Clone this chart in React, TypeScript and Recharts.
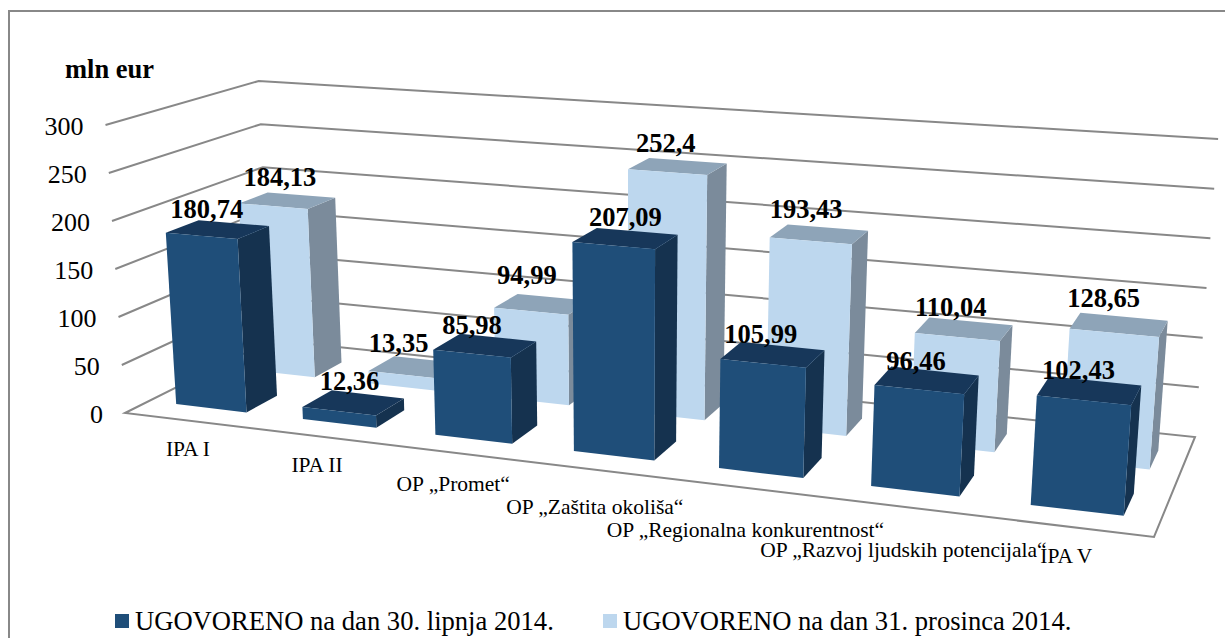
import { BarChart, Bar, XAxis, YAxis, CartesianGrid, LabelList, Legend } from 'recharts';

const categories = [
  'IPA I',
  'IPA II',
  'OP „Promet“',
  'OP „Zaštita okoliša“',
  'OP „Regionalna konkurentnost“',
  'OP „Razvoj ljudskih potencijala“',
  'IPA V',
];
const june2014 = [180.74, 12.36, 85.98, 207.09, 105.99, 96.46, 102.43];
const december2014 = [184.13, 13.35, 94.99, 252.4, 193.43, 110.04, 128.65];
const yTicks = [0, 50, 100, 150, 200, 250, 300];

const chartData = categories.map((name, i) => ({
  name,
  june: june2014[i],
  december: december2014[i],
}));

const FONT = '"Liberation Serif", serif';
const GRID = '#888888';

// flat plot area that recharts lays out, gets projected onto the 3d box below
const PLOT = { left: 100, top: 100, width: 1000, height: 400 };

type Pt = [number, number];

// unit square -> quad (u along the front edge, d towards the back wall)
function makeHomography(p00: Pt, p10: Pt, p11: Pt, p01: Pt) {
  const dx1 = p10[0] - p11[0];
  const dx2 = p01[0] - p11[0];
  const sx = p00[0] - p10[0] + p11[0] - p01[0];
  const dy1 = p10[1] - p11[1];
  const dy2 = p01[1] - p11[1];
  const sy = p00[1] - p10[1] + p11[1] - p01[1];
  const den = dx1 * dy2 - dx2 * dy1;
  const g = (sx * dy2 - dx2 * sy) / den;
  const h = (dx1 * sy - sx * dy1) / den;
  const a = p10[0] - p00[0] + g * p10[0];
  const b = p01[0] - p00[0] + h * p01[0];
  const d = p10[1] - p00[1] + g * p10[1];
  const e = p01[1] - p00[1] + h * p01[1];
  return (u: number, v: number): Pt => {
    const q = g * u + h * v + 1;
    return [(a * u + b * v + p00[0]) / q, (d * u + e * v + p00[1]) / q];
  };
}

const floor = makeHomography([125, 413], [1154, 537], [1195, 437], [271, 340]);
const ceiling = makeHomography([105, 125], [1174, 207], [1215, 139], [259, 81]);

// verticals all run towards one point far below the chart
const VANISH: Pt = [625, 7800];

function project(u: number, d: number, w: number): Pt {
  const a = floor(u, d);
  const topY = ceiling(u, d)[1];
  const y = a[1] + (topY - a[1]) * w;
  return [VANISH[0] + ((a[0] - VANISH[0]) * (y - VANISH[1])) / (a[1] - VANISH[1]), y];
}

const toU = (x: number) => (x - PLOT.left) / PLOT.width;
const toW = (y: number) => (PLOT.top + PLOT.height - y) / PLOT.height;
const pts = (list: Pt[]) => list.map(p => `${p[0].toFixed(1)},${p[1].toFixed(1)}`).join(' ');

const ROWS = {
  front: { near: 0.15, far: 0.36, slide: 0, face: '#1F4E79', top: '#17375A', side: '#15324F' },
  back: { near: 0.61, far: 0.815, slide: 0.004, face: '#BDD7EE', top: '#8EA4B8', side: '#7B8B9B' },
};
type Row = typeof ROWS.front;

function Box3D({ x, y, width, height, row }: any) {
  const r: Row = row;
  const u0 = toU(x) + r.slide;
  const u1 = toU(x + width) + r.slide;
  const w = toW(y);
  const base = toW(y + height);
  return (
    <g>
      <polygon
        points={pts([project(u1, r.near, base), project(u1, r.far, base), project(u1, r.far, w), project(u1, r.near, w)])}
        fill={r.side}
      />
      <polygon
        points={pts([project(u0, r.near, w), project(u1, r.near, w), project(u1, r.far, w), project(u0, r.far, w)])}
        fill={r.top}
      />
      <polygon
        points={pts([project(u0, r.near, base), project(u1, r.near, base), project(u1, r.near, w), project(u0, r.near, w)])}
        fill={r.face}
      />
    </g>
  );
}

// excel labels sit a little off the bar centre, per bar [dx, dy]
const frontLabelNudge: Pt[] = [[-3, 0], [4, 1], [-5, 1], [8, 0], [-4, 2], [-3, 4], [-3, 3]];
const backLabelNudge: Pt[] = [[4, -4], [-6, -2], [-4, -8], [0, -3], [-1, -4], [-1, 0], [-3, -4]];

function BarValue({ x, y, width, value, index, row, nudge }: any) {
  const r: Row = row;
  const w = toW(y);
  const um = toU(x + width / 2);
  const back = project(um, r.far, w);
  const mid = project(um, (r.near + r.far) / 2, w);
  return (
    <text
      x={mid[0] - 8 + nudge[index][0]}
      y={back[1] - 5 + nudge[index][1]}
      textAnchor="middle"
      fontFamily={FONT}
      fontWeight="bold"
      fontSize={26.5}
      fill="#000"
    >
      {String(value).replace('.', ',')}
    </text>
  );
}

// wall lines, the zero line closes the floor
function WallLine({ y1 }: any) {
  const w = toW(y1);
  const line = [project(0, 0, w), project(0, 1, w), project(1, 1, w)];
  if (w < 0.001) {
    return (
      <polygon
        points={pts([...line, project(1, 0, 0)])}
        fill="none"
        stroke={GRID}
        strokeWidth={2}
      />
    );
  }
  return <polyline points={pts(line)} fill="none" stroke={GRID} strokeWidth={2} />;
}

function ValueTick({ y, payload }: any) {
  const p = project(0, 0, toW(y));
  return (
    <text x={p[0] - 22} y={p[1] + 10} textAnchor="end" fontFamily={FONT} fontSize={26} fill="#000">
      {payload.value}
    </text>
  );
}

// excel staggered these by hand, distance below the front edge
const tickDrop = [35, 36, 38, 44, 49, 50, 36];
const tickShift = [0, -1, -1, -2, -1, 0, -2];

function CategoryTick({ x, payload, index }: any) {
  const p = project(toU(x), 0, 0);
  return (
    <text
      x={p[0] + tickShift[index]}
      y={p[1] + tickDrop[index]}
      textAnchor="middle"
      fontFamily={FONT}
      fontSize={21.5}
      fill="#000"
    >
      {payload.value}
    </text>
  );
}

function AxisTitle() {
  return (
    <text x={65} y={78} fontFamily={FONT} fontWeight="bold" fontSize={26.5} fill="#000">
      mln eur
    </text>
  );
}

const legendSpots = [115, 603];

function LegendRow({ payload }: any) {
  return (
    <div style={{ position: 'relative', height: 30, fontFamily: FONT, fontSize: 26.6, color: '#000' }}>
      {(payload ?? []).map((item: any, i: number) => (
        <div key={item.value} style={{ position: 'absolute', left: legendSpots[i], top: 0, whiteSpace: 'nowrap' }}>
          <span
            style={{
              position: 'absolute',
              left: 0,
              top: 8,
              width: 14,
              height: 14,
              background: item.color,
            }}
          />
          <span style={{ position: 'absolute', left: 20, top: 0, lineHeight: '30px' }}>{item.value}</span>
        </div>
      ))}
    </div>
  );
}

export default function App() {
  return (
    <div style={{ position: 'absolute', left: 0, top: 0, width: 1225, height: 638, overflow: 'hidden', background: '#fff' }}>
      <div
        style={{
          position: 'absolute',
          left: 8,
          top: 10,
          width: 1300,
          height: 700,
          borderLeft: `2px solid ${GRID}`,
          borderTop: `2px solid ${GRID}`,
        }}
      />
      <div style={{ position: 'absolute', left: 0, top: 0 }}>
        <BarChart
          width={1225}
          height={638}
          data={chartData}
          barCategoryGap="22%"
          margin={{
            left: PLOT.left - 1,
            top: PLOT.top,
            right: 1225 - PLOT.left - PLOT.width,
            bottom: 638 - PLOT.top - PLOT.height - 1,
          }}
        >
          <CartesianGrid xAxisId="row1" vertical={false} horizontal={WallLine} stroke={GRID} />
          <XAxis
            xAxisId="row1"
            dataKey="name"
            height={1}
            axisLine={false}
            tickLine={false}
            interval={0}
            tick={CategoryTick}
          />
          <XAxis xAxisId="row2" dataKey="name" hide />
          <YAxis
            width={1}
            domain={[0, 300]}
            ticks={yTicks}
            axisLine={false}
            tickLine={false}
            tick={ValueTick}
            label={<AxisTitle />}
          />
          <Bar
            xAxisId="row2"
            dataKey="december"
            name="UGOVORENO na dan 31. prosinca 2014."
            fill={ROWS.back.face}
            isAnimationActive={false}
            shape={(p: any) => <Box3D {...p} row={ROWS.back} />}
          >
            <LabelList
              dataKey="december"
              content={(p: any) => <BarValue {...p} row={ROWS.back} nudge={backLabelNudge} />}
            />
          </Bar>
          <Bar
            xAxisId="row1"
            dataKey="june"
            name="UGOVORENO na dan 30. lipnja 2014."
            fill={ROWS.front.face}
            isAnimationActive={false}
            shape={(p: any) => <Box3D {...p} row={ROWS.front} />}
          >
            <LabelList
              dataKey="june"
              content={(p: any) => <BarValue {...p} row={ROWS.front} nudge={frontLabelNudge} />}
            />
          </Bar>
          <Legend
            layout="horizontal"
            verticalAlign="middle"
            content={LegendRow}
            itemSorter={(item: any) => (item.dataKey === 'june' ? 0 : 1)}
            wrapperStyle={{ left: 0, top: 606, width: 1225, bottom: 'auto' }}
          />
        </BarChart>
      </div>
    </div>
  );
}
